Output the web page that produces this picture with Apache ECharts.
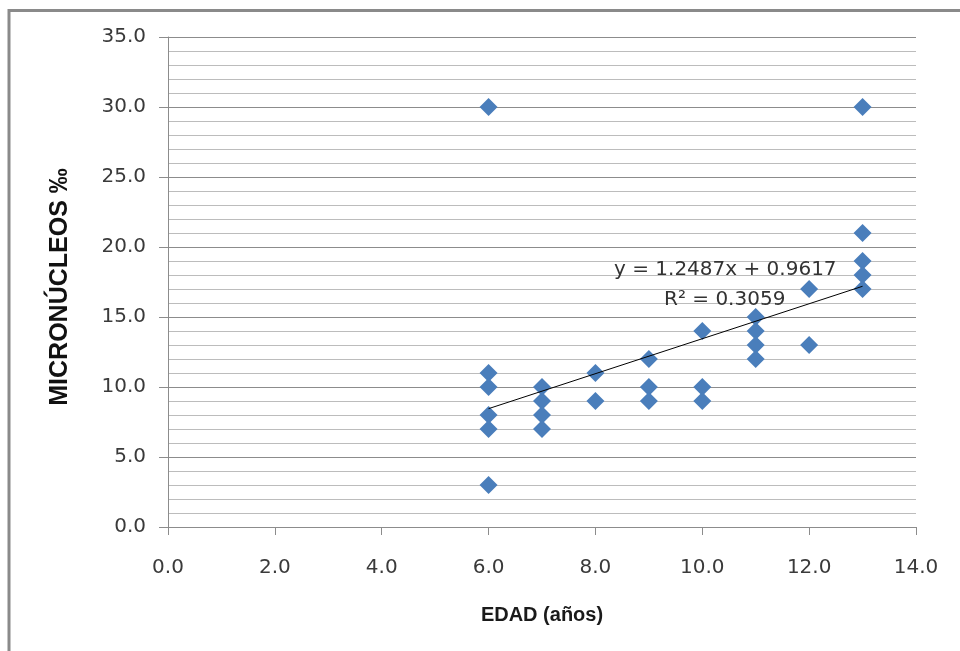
<!DOCTYPE html>
<html>
<head>
<meta charset="utf-8">
<script src="https://cdn.jsdelivr.net/npm/echarts@6/dist/echarts.min.js"></script>
<style>html,body{margin:0;padding:0;background:#fff}#c{width:960px;height:651px}</style>
</head>
<body>
<div id="c"></div>
<script>
// Data
const ages = [6,6,6,6,6,6,7,7,7,7,8,8,9,9,9,10,10,10,11,11,11,11,12,12,13,13,13,13,13];
const micronucleos = [30,11,10,8,7,3,10,9,8,7,11,9,12,10,9,14,10,9,15,14,13,12,17,13,30,21,19,18,17];
const trendSlope = 1.2487;
const trendIntercept = 0.9617;
const trendRange = [6, 13];
const equationText = 'y = 1.2487x + 0.9617';
const r2Text = 'R² = 0.3059';
const xTitle = 'EDAD (años)';
const yTitle = 'MICRONÚCLEOS ‰';

const points = ages.map((a, i) => [a, micronucleos[i]]);
const trend = trendRange.map(x => [x, trendSlope * x + trendIntercept]);

const chart = echarts.init(document.getElementById('c'), null, {renderer: 'canvas'});
const labelFont = {fontFamily: 'DejaVu Sans', fontSize: 20, color: '#3a3a3a'};
chart.setOption({
  animation: false,
  backgroundColor: '#fff',
  grid: {left: 168, right: 44, top: 37, bottom: 124},
  xAxis: {
    type: 'value', min: 0, max: 14, interval: 2,
    axisLine: {show: true, onZero: false, lineStyle: {color: '#8c8c8c', width: 1}},
    axisTick: {show: true, length: 8, lineStyle: {color: '#8c8c8c'}},
    splitLine: {show: false},
    axisLabel: Object.assign({margin: 31, formatter: v => v.toFixed(1)}, labelFont),
    name: xTitle, nameLocation: 'middle', nameGap: 78,
    nameTextStyle: {fontFamily: 'Liberation Sans', fontWeight: 'bold', fontSize: 20, color: '#1a1a1a'}
  },
  yAxis: {
    type: 'value', min: 0, max: 35, interval: 5,
    axisLine: {show: true, onZero: false, lineStyle: {color: '#8c8c8c', width: 1}},
    axisTick: {show: true, length: 9, lineStyle: {color: '#8c8c8c'}},
    minorTick: {show: false, splitNumber: 5},
    splitLine: {show: true, lineStyle: {color: '#8c8c8c', width: 1}},
    minorSplitLine: {show: true, lineStyle: {color: '#bcbcbc', width: 1}},
    axisLabel: Object.assign({margin: 22, formatter: v => v.toFixed(1)}, labelFont)
  },
  graphic: [
    {type: 'rect', silent: true, z: 100, shape: {x: 9, y: 10.5, width: 1000, height: 1000},
     style: {fill: 'none', stroke: '#8a8a8a', lineWidth: 3}},
    {type: 'text', z: 100, left: 614, top: 260,
     style: {text: equationText, font: '20px "DejaVu Sans"', fill: '#333'}},
    {type: 'text', z: 100, left: 664, top: 290,
     style: {text: r2Text, font: '20px "DejaVu Sans"', fill: '#333'}},
    {type: 'text', z: 100, x: 60, y: 287, rotation: Math.PI / 2,
     style: {text: yTitle, font: 'bold 25px "Liberation Sans"', fill: '#111', align: 'center', verticalAlign: 'middle'}}
  ],
  series: [
    {type: 'scatter', data: points, symbol: 'diamond', symbolSize: 18,
     itemStyle: {color: '#4a7ebb', opacity: 1}, z: 3},
    {type: 'line', data: trend, showSymbol: false, symbol: 'none',
     lineStyle: {color: '#000', width: 1}, z: 4}
  ]
});
</script>
</body>
</html>
